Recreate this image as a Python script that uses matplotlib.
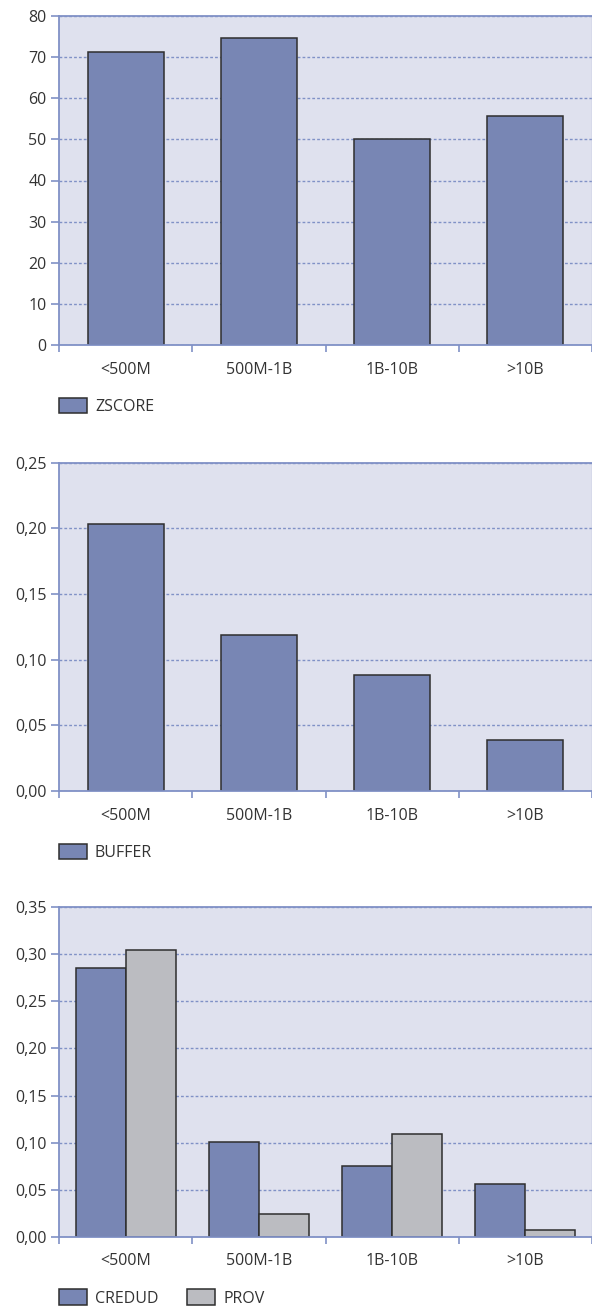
import numpy as np
import matplotlib.pyplot as plt
from matplotlib.ticker import FuncFormatter, FixedLocator

plt.rcParams['font.family'] = ['Open Sans', 'DejaVu Sans']

categories = ['<500M', '500M-1B', '1B-10B', '>10B']
zscore = [71.3, 74.6, 50.0, 55.8]
buffer_ = [0.203, 0.119, 0.0886, 0.039]
credud = [0.286, 0.101, 0.075, 0.056]
prov = [0.305, 0.024, 0.109, 0.007]

BLUE = '#7886b4'
GREY = '#bbbcc1'
BG = '#dfe1ee'
AXIS = '#8091c6'
TXT = '#333333'
FS = 11.5


def style_axes(ax, ymax, step, fmt):
    ax.set_facecolor(BG)
    ax.set_xlim(-0.5, len(categories) - 0.5)
    ax.set_ylim(0, ymax)
    ax.set_axisbelow(True)
    ticks = np.arange(0, ymax + step / 2, step)
    ax.yaxis.set_major_locator(FixedLocator(ticks))
    ax.yaxis.set_major_formatter(FuncFormatter(fmt))
    ax.yaxis.grid(True, color=AXIS, linestyle=(0, (2.0, 1.5)), linewidth=1.0)
    ax.set_xticks(range(len(categories)))
    ax.set_xticklabels(categories)
    ax.xaxis.set_minor_locator(FixedLocator(np.arange(-0.5, len(categories), 1.0)))
    ax.tick_params(axis='x', which='major', length=0, pad=12, labelsize=FS, labelcolor=TXT)
    ax.tick_params(axis='x', which='minor', length=5, width=1.2, color=AXIS, direction='out')
    ax.tick_params(axis='y', length=6, width=1.2, color=AXIS, pad=3, labelsize=FS, labelcolor=TXT)
    for s in ['left', 'bottom', 'top']:
        ax.spines[s].set_color(AXIS)
        ax.spines[s].set_linewidth(1.3)
    ax.spines['right'].set_color('#b9c0dd')
    ax.spines['right'].set_linewidth(1.0)


def legend(ax):
    ax.legend(loc='upper left', bbox_to_anchor=(0, -0.16), frameon=False,
              ncol=2, fontsize=FS, handlelength=1.75, handleheight=1.1,
              handletextpad=0.5, columnspacing=1.8, borderaxespad=0,
              borderpad=0, labelcolor=TXT)


fig = plt.figure(figsize=(5.92, 13.08), dpi=100)
W = 533 / 592
x = np.arange(len(categories))
edge = dict(edgecolor='#2e2e2e', linewidth=1.1)

# ZSCORE
ax1 = fig.add_axes([59 / 592, 1 - 345 / 1308, W, 329 / 1308])
style_axes(ax1, 80, 10, lambda v, p: f'{v:.0f}')
ax1.bar(x, zscore, width=0.57, color=BLUE, label='ZSCORE', **edge)
legend(ax1)

# BUFFER
ax2 = fig.add_axes([59 / 592, 1 - 791 / 1308, W, 328.3 / 1308])
style_axes(ax2, 0.25, 0.05, lambda v, p: f'{v:.2f}'.replace('.', ','))
ax2.bar(x, buffer_, width=0.57, color=BLUE, label='BUFFER', **edge)
legend(ax2)

# CREDUD / PROV
ax3 = fig.add_axes([59 / 592, 1 - 1236.7 / 1308, W, 329.4 / 1308])
style_axes(ax3, 0.35, 0.05, lambda v, p: f'{v:.2f}'.replace('.', ','))
bw = 0.375
ax3.bar(x - bw / 2, credud, width=bw, color=BLUE, label='CREDUD', **edge)
ax3.bar(x + bw / 2, prov, width=bw, color=GREY, label='PROV', **edge)
legend(ax3)

fig.savefig('out.png', dpi=100)
